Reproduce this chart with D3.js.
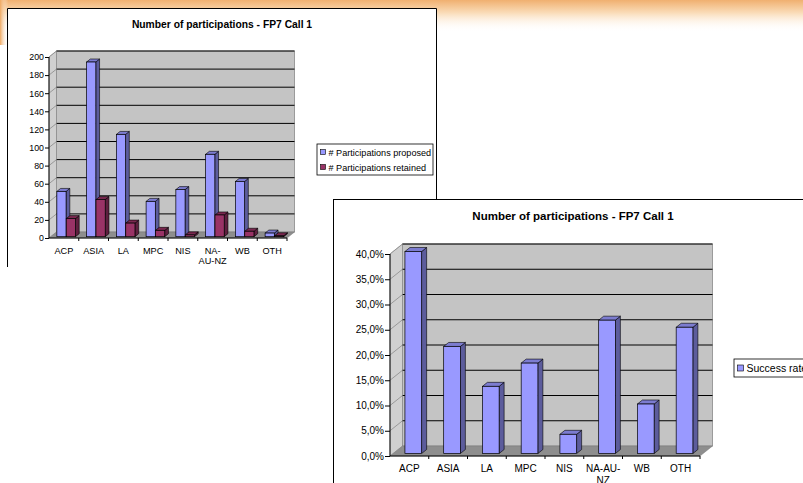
<!DOCTYPE html>
<html lang="en">
<head>
<meta charset="UTF-8">
<title>FP7 Call 1 participations</title>
<script src="https://d3js.org/d3.v7.min.js"></script>
<style>
    body { margin: 0; background: #fff; }
    svg { display: block; font-family: "Liberation Sans", Arial, sans-serif; }
</style>
</head>
<body>
<svg width="803" height="483"></svg>
<script>
    // data
    const regions = ["ACP", "ASIA", "LA", "MPC", "NIS", "NA-AU-NZ", "WB", "OTH"];
    const proposed = [50, 193, 113, 39, 52, 91, 61, 4];
    const retained = [20, 41, 15, 7, 2, 24, 6, 1];
    const successRate = [40.0, 21.2, 13.3, 17.9, 3.8, 26.4, 9.8, 25.0];
    const countTicks = [0, 20, 40, 60, 80, 100, 120, 140, 160, 180, 200];
    const rateTicks = [0, 5, 10, 15, 20, 25, 30, 35, 40];

    const svg = d3.select("svg");

    // slide header glow
    let defs = svg.append("defs");
    let hg = defs.append("linearGradient").attr("id", "hdr").attr("x1", 0).attr("y1", 0).attr("x2", 0).attr("y2", 1);
    hg.append("stop").attr("offset", "0%").attr("stop-color", "#f0b070");
    hg.append("stop").attr("offset", "40%").attr("stop-color", "#fadcb8");
    hg.append("stop").attr("offset", "100%").attr("stop-color", "#ffffff").attr("stop-opacity", 0);
    svg.append("rect").attr("x", 0).attr("y", 0).attr("width", 803).attr("height", 32).attr("fill", "url(#hdr)");
    let lg = defs.append("linearGradient").attr("id", "hdrL").attr("x1", 0).attr("y1", 0).attr("x2", 1).attr("y2", 0);
    lg.append("stop").attr("offset", "0%").attr("stop-color", "#efa860");
    lg.append("stop").attr("offset", "100%").attr("stop-color", "#ffffff").attr("stop-opacity", 0);
    svg.append("rect").attr("x", 0).attr("y", 0).attr("width", 8).attr("height", 45).attr("fill", "url(#hdrL)");

    const colors = {
        blue: { front: "#9999ff", side: "#5c5c9c", top: "#7c7cd0" },
        plum: { front: "#993366", side: "#5e1f3f", top: "#7a2850" }
    };

    function draw3D(g, o) {
        let x = d3.scaleBand().domain(regions).range([o.x0, o.x1]);
        let y = d3.scaleLinear().domain(o.domain).range([o.y0, o.yTop]);
        let dx = o.depth[0], dy = o.depth[1];

        // walls and floor
        g.append("polygon")
            .attr("points", [[o.x0, o.y0], [o.x0 + dx, o.y0 + dy], [o.x0 + dx, o.yTop + dy], [o.x0, o.yTop]].join(" "))
            .attr("fill", "#d0d0d0").attr("stroke", "#999").attr("stroke-width", 0.6);
        g.append("rect")
            .attr("x", o.x0 + dx).attr("y", o.yTop + dy)
            .attr("width", o.x1 - o.x0).attr("height", o.y0 - o.yTop)
            .attr("fill", "#c4c4c4").attr("stroke", "#8a8a8a").attr("stroke-width", 0.8);
        g.append("polygon")
            .attr("points", [[o.x0, o.y0], [o.x1, o.y0], [o.x1 + dx, o.y0 + dy], [o.x0 + dx, o.y0 + dy]].join(" "))
            .attr("fill", "#8e8e8e").attr("stroke", "#777").attr("stroke-width", 0.5);

        // gridlines
        let grid = o.ticks.filter(t => t > 0);
        g.selectAll(".gw").data(grid).enter().append("line")
            .attr("x1", o.x0 + dx).attr("x2", o.x1 + dx)
            .attr("y1", d => y(d) + dy).attr("y2", d => y(d) + dy)
            .attr("stroke", "#000").attr("stroke-width", 1);
        g.selectAll(".gs").data(grid).enter().append("line")
            .attr("x1", o.x0).attr("x2", o.x0 + dx)
            .attr("y1", d => y(d)).attr("y2", d => y(d) + dy)
            .attr("stroke", "#8a8a8a").attr("stroke-width", 0.8);

        // bars
        let inner = d3.scaleBand().domain(o.series.map((s, i) => i)).range(o.inner);
        let bw = inner.bandwidth() * o.barFill;
        let fz = o.barZ[0], bz = o.barZ[1];
        o.series.forEach(function (s, si) {
            let c = colors[s.color];
            s.values.forEach(function (v, i) {
                let xl = x(regions[i]) + inner(si) + dx * fz;
                let yb = o.y0 + dy * fz;
                let yt = y(v) + dy * fz;
                let ox = dx * (bz - fz), oy = dy * (bz - fz);
                g.append("polygon")
                    .attr("points", [[xl + bw, yb], [xl + bw + ox, yb + oy], [xl + bw + ox, yt + oy], [xl + bw, yt]].join(" "))
                    .attr("fill", c.side).attr("stroke", "#000").attr("stroke-width", 0.6).attr("stroke-linejoin", "round");
                g.append("polygon")
                    .attr("points", [[xl, yt], [xl + ox, yt + oy], [xl + bw + ox, yt + oy], [xl + bw, yt]].join(" "))
                    .attr("fill", c.top).attr("stroke", "#000").attr("stroke-width", 0.6).attr("stroke-linejoin", "round");
                g.append("rect")
                    .attr("x", xl).attr("y", yt).attr("width", bw).attr("height", yb - yt)
                    .attr("fill", c.front).attr("stroke", "#000").attr("stroke-width", 0.7);
            });
        });

        // axes
        let yAxis = d3.axisLeft(y).tickValues(o.ticks).tickSize(o.tick).tickPadding(1).tickFormat(o.fmt);
        let ya = g.append("g").attr("transform", `translate(${o.x0},0)`).call(yAxis);
        let xAxis = d3.axisBottom(x).tickSize(0).tickPadding(o.xPad);
        let xa = g.append("g").attr("transform", `translate(0,${o.y0})`).call(xAxis);
        [ya, xa].forEach(a => {
            a.select(".domain").attr("stroke", "#000").attr("stroke-width", 1);
            a.selectAll("line").attr("stroke", "#000");
            a.selectAll("text").attr("fill", "#000")
                .attr("font-family", "'Liberation Sans', Arial, sans-serif");
        });
        ya.selectAll("text").attr("font-size", o.font);
        xa.selectAll("text").attr("font-size", o.xFont);
        ya.select(".domain").attr("d", `M0,${o.y0}V${o.yTop}`);
        xa.select(".domain").attr("d", `M${o.x0},0H${o.x1}`);
        // category boundary ticks
        xa.selectAll(".bt").data(regions.slice(1).concat(["_end"])).enter().append("line")
            .attr("x1", d => d === "_end" ? o.x1 : x(d)).attr("x2", d => d === "_end" ? o.x1 : x(d))
            .attr("y1", 0).attr("y2", 3).attr("stroke", "#000");
        // wrap long labels
        xa.selectAll(".tick text").each(function (d) {
            let parts = o.wrap[d];
            if (!parts) return;
            let t = d3.select(this).text(null);
            parts.forEach((p, k) => t.append("tspan").attr("x", 0).attr("dy", k === 0 ? "0.71em" : "1.15em").text(p));
            t.attr("dy", null);
        });

        // title
        g.append("text").attr("x", o.titleX).attr("y", o.titleY)
            .attr("text-anchor", "middle").attr("font-weight", "bold").attr("font-size", o.titleSize)
            .text("Number of participations - FP7 Call 1");

        // legend
        let lgd = g.append("g");
        lgd.append("rect").attr("x", o.legend.x).attr("y", o.legend.y)
            .attr("width", o.legend.w).attr("height", o.legend.h)
            .attr("fill", "#fff").attr("stroke", "#000").attr("stroke-width", 0.8);
        o.series.forEach(function (s, si) {
            let ly = o.legend.y + o.legend.rowY + si * o.legend.step;
            lgd.append("rect").attr("x", o.legend.x + 3.5).attr("y", ly - o.legend.mk / 2 - 0.5)
                .attr("width", o.legend.mk).attr("height", o.legend.mk)
                .attr("fill", colors[s.color].front).attr("stroke", "#000").attr("stroke-width", 0.6);
            lgd.append("text").attr("x", o.legend.x + 5 + o.legend.mk + 1.5).attr("y", ly + o.legend.font * 0.35)
                .attr("font-size", o.legend.font).text(s.name);
        });
    }

    // chart 1 frame (bottom is cut off)
    let c1 = svg.append("g");
    c1.append("rect").attr("x", 7).attr("y", 8).attr("width", 429).attr("height", 259).attr("fill", "#fff");
    c1.append("path").attr("d", "M7.5,267V8.5H436.5V267").attr("fill", "none").attr("stroke", "#000").attr("stroke-width", 1);

    draw3D(c1, {
        x0: 49, x1: 287, y0: 238, yTop: 57, depth: [7.5, -6],
        domain: [0, 200], ticks: countTicks, fmt: d3.format("d"), tick: 4,
        font: 8.8, xFont: 9.2, xPad: 9, wrap: { "NA-AU-NZ": ["NA-", "AU-NZ"] },
        inner: [6.2, 25], barFill: 0.98, barZ: [0.22, 0.72],
        series: [
            { name: "# Participations proposed", values: proposed, color: "blue" },
            { name: "# Participations retained", values: retained, color: "plum" }
        ],
        titleX: 222, titleY: 28, titleSize: 10.3,
        legend: { x: 317, y: 144, w: 116, h: 31, rowY: 8.5, step: 15, mk: 5, font: 9.1 }
    });

    // chart 2 frame, drawn on top of chart 1
    let c2 = svg.append("g");
    c2.append("rect").attr("x", 333.5).attr("y", 199.5).attr("width", 500).attr("height", 300)
        .attr("fill", "#fff").attr("stroke", "#000").attr("stroke-width", 1);

    draw3D(c2, {
        x0: 390, x1: 700, y0: 456, yTop: 254, depth: [12.5, -10],
        domain: [0, 40], ticks: rateTicks, fmt: d => d3.format(".1f")(d).replace(".", ",") + "%", tick: 5,
        font: 10, xFont: 10, xPad: 9, wrap: { "NA-AU-NZ": ["NA-AU-", "NZ"] },
        inner: [11.8, 28.5], barFill: 1, barZ: [0.25, 0.65],
        series: [
            { name: "Success rate", values: successRate, color: "blue" }
        ],
        titleX: 573, titleY: 220, titleSize: 11.5,
        legend: { x: 734, y: 359, w: 90, h: 18, rowY: 9.5, step: 15, mk: 6, font: 10.5 }
    });
</script>
</body>
</html>
